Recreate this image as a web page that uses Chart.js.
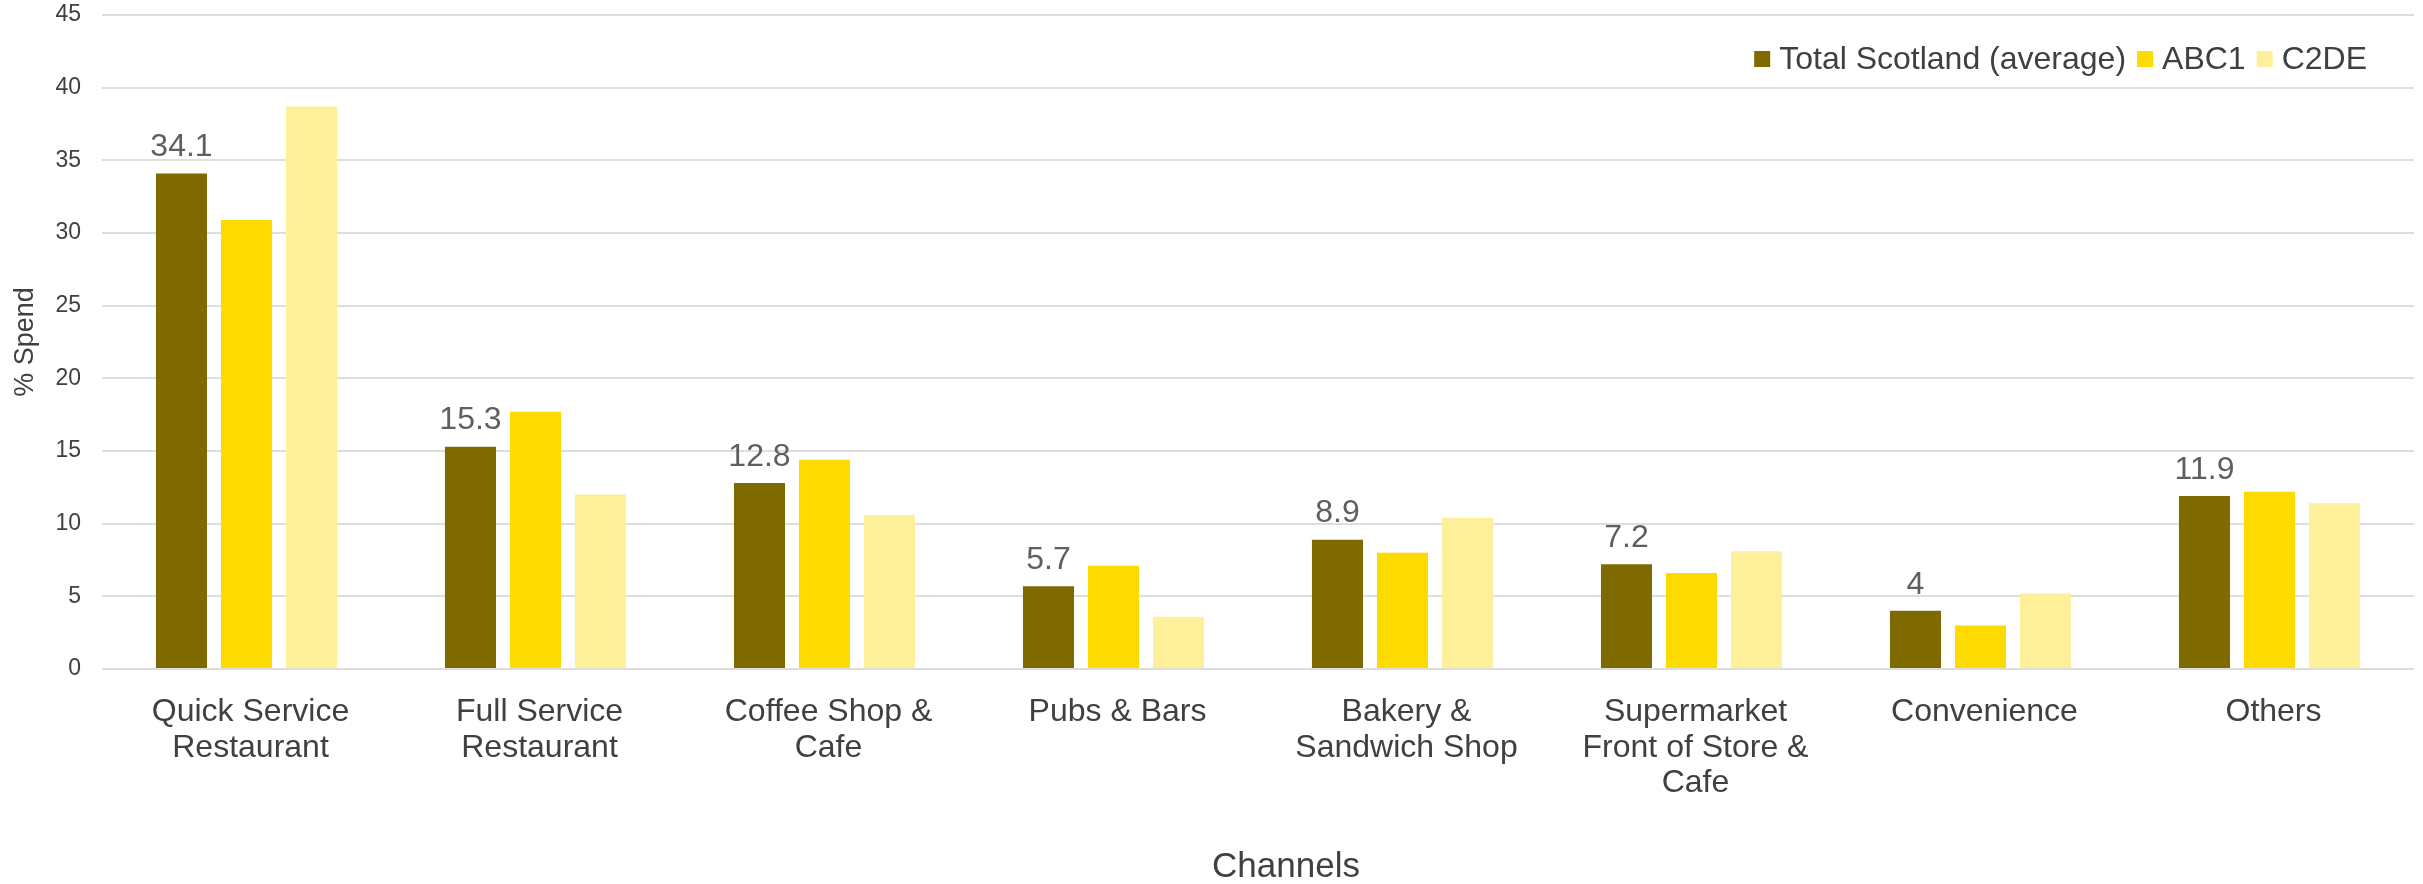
<!DOCTYPE html>
<html>
<head>
<meta charset="utf-8">
<script src="https://cdn.jsdelivr.net/npm/chart.js@4/dist/chart.umd.min.js"></script>
<style>
  html, body { margin: 0; padding: 0; background: #fff; }
  #wrap { width: 2423px; height: 884px; position: relative; }
</style>
</head>
<body>
<div id="wrap"><canvas id="chart"></canvas></div>
<script>
// channels on the x axis (multi-line labels)
const channels = [
  ["Quick Service", "Restaurant"],
  ["Full Service", "Restaurant"],
  ["Coffee Shop &", "Cafe"],
  "Pubs & Bars",
  ["Bakery &", "Sandwich Shop"],
  ["Supermarket", "Front of Store &", "Cafe"],
  "Convenience",
  "Others"
];

const seriesNames = ["Total Scotland (average)", "ABC1", "C2DE"];
const xTitle = "Channels";
const yTitle = "% Spend";

// % spend per channel
const totalScotland = [34.1, 15.3, 12.8, 5.7, 8.9, 7.2, 4, 11.9];
const abc1 = [30.9, 17.7, 14.4, 7.1, 8.0, 6.6, 3.0, 12.2];
const c2de = [38.7, 12.0, 10.6, 3.6, 10.4, 8.1, 5.2, 11.4];

const yTicks = [0, 5, 10, 15, 20, 25, 30, 35, 40, 45];

const colours = {
  total: "#7f6a00",
  abc1: "#fddb00",
  c2de: "#fef09b",
  grid: "#dedede",
  text: "#404040",
  label: "#5f5f5f"
};

const FONT = "'Liberation Sans', Arial, sans-serif";

// value labels above the first series only
const valueLabels = {
  id: "valueLabels",
  afterDatasetsDraw(chart) {
    const { ctx } = chart;
    const meta = chart.getDatasetMeta(0);
    ctx.save();
    ctx.font = "32px " + FONT;
    ctx.fillStyle = colours.label;
    ctx.textAlign = "center";
    ctx.textBaseline = "bottom";
    meta.data.forEach((bar, i) => {
      ctx.fillText(String(totalScotland[i]), bar.x, bar.y - 10);
    });
    ctx.restore();
  }
};

// legend inside the plot (top right) and the x axis title, a bit right of centre
const insideLegend = {
  id: "insideLegend",
  afterDraw(chart) {
    const { ctx, chartArea } = chart;
    const box = 16, gap = 9, itemGap = 11;
    const cy = 59;
    ctx.save();
    ctx.font = "32px " + FONT;
    ctx.textBaseline = "middle";
    ctx.textAlign = "left";
    const items = chart.data.datasets.map(ds => ({
      text: ds.label,
      colour: ds.backgroundColor,
      w: ctx.measureText(ds.label).width
    }));
    const total = items.reduce((s, it) => s + box + gap + it.w, 0) + itemGap * (items.length - 1);
    let x = chartArea.right - 47 - total;
    items.forEach(it => {
      ctx.fillStyle = it.colour;
      ctx.fillRect(x, cy - box / 2, box, box);
      x += box + gap;
      ctx.fillStyle = colours.text;
      ctx.fillText(it.text, x, cy + 1);
      x += it.w + itemGap;
    });

    ctx.font = "35px " + FONT;
    ctx.textAlign = "center";
    ctx.fillText(xTitle, (chartArea.left + chartArea.right) / 2 + 28, 867);
    ctx.restore();
  }
};

new Chart(document.getElementById("chart"), {
  type: "bar",
  data: {
    labels: channels,
    datasets: [
      { label: seriesNames[0], data: totalScotland, backgroundColor: colours.total },
      { label: seriesNames[1], data: abc1, backgroundColor: colours.abc1 },
      { label: seriesNames[2], data: c2de, backgroundColor: colours.c2de }
    ]
  },
  options: {
    responsive: true,
    maintainAspectRatio: false,
    animation: false,
    datasets: { bar: { categoryPercentage: 0.675, barPercentage: 0.785 } },
    layout: { padding: { top: 15, right: 9, bottom: 0, left: 0 } },
    plugins: {
      tooltip: { enabled: false },
      legend: { display: false }
    },
    scales: {
      x: {
        grid: { display: false },
        border: { display: false },
        ticks: {
          color: colours.text,
          font: { family: FONT, size: 32, lineHeight: 1.1 },
          padding: 18,
          labelOffset: 4,
          autoSkip: false,
          maxRotation: 0
        },
        afterFit(scale) { scale.height = 215; }
      },
      y: {
        min: 0,
        max: 45,
        afterBuildTicks(scale) { scale.ticks = yTicks.map(v => ({ value: v })); },
        grid: { color: colours.grid, lineWidth: 2, drawTicks: false },
        border: { display: false },
        ticks: {
          color: colours.text,
          font: { family: FONT, size: 23 },
          padding: 21
        },
        title: {
          display: true,
          text: yTitle,
          color: colours.text,
          font: { family: FONT, size: 27, lineHeight: 1.2 },
          padding: { top: 9, bottom: 0 }
        },
        afterFit(scale) {
          scale.width = 102;
          scale.paddingTop = 0;
          scale.paddingBottom = 0;
        }
      }
    }
  },
  plugins: [valueLabels, insideLegend]
});
</script>
</body>
</html>
